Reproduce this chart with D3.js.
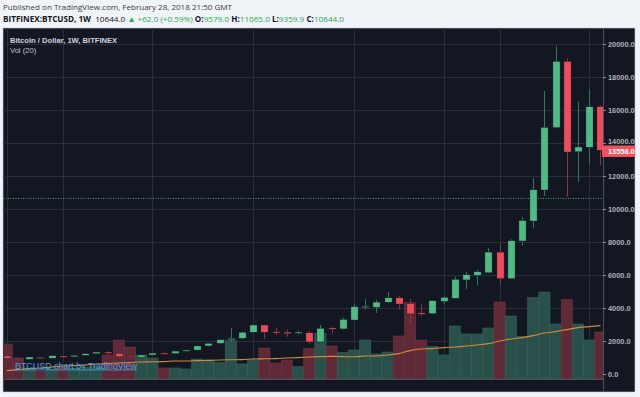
<!DOCTYPE html>
<html>
<head>
<meta charset="utf-8">
<script src="https://cdn.jsdelivr.net/npm/d3@7"></script>
<style>
  body { margin: 0; background: #f0f3f7; }
  svg { display: block; }
  text { font-family: "Liberation Sans", Arial, sans-serif; }
  .hdr { font-family: "Open Sans", "Liberation Sans", sans-serif; white-space: pre; }
</style>
</head>
<body>
<div id="chart"></div>
<script>
var width = 640;
var height = 397;

// weekly candles, first week starts Mon Jan 2 2017
var firstWeek = "2017-01-02";
var open  = [1090, 950, 890, 1010, 960, 1090, 1040, 1130, 1230, 1330, 1260, 1080, 1010, 1150, 1270, 1240, 1390, 1450, 1700, 1860,
             2080, 2160, 2530, 2970, 2560, 2540, 2480, 2500, 1940, 2790, 2730, 3270, 4040, 4040, 4350, 4620, 4280, 3700, 3660, 4400,
             4590, 5700, 5980, 6140, 7390, 5780, 8060, 9270, 11150, 14930, 18950, 13470, 13740, 16200];
var high  = [1160, 990, 1040, 1030, 1120, 1120, 1140, 1240, 1340, 1390, 1290, 1100, 1160, 1280, 1300, 1400, 1460, 1720, 1880, 2090,
             2770, 2560, 3000, 2990, 2800, 2670, 2620, 2600, 2970, 2860, 3410, 4240, 4530, 4500, 4990, 4750, 4540, 4200, 4450, 4700,
             5900, 6200, 6330, 7620, 7920, 8160, 9500, 11880, 17150, 19880, 19130, 16500, 17250, 16300];
var low   = [880, 800, 880, 940, 955, 980, 1030, 1120, 1220, 1150, 1000, 960, 1000, 1140, 1210, 1230, 1370, 1440, 1650, 1800,
             1950, 2100, 2500, 2120, 2360, 2260, 2400, 1840, 1930, 2480, 2700, 3250, 3920, 3700, 4300, 3920, 3030, 3500, 3640, 4220,
             4590, 5150, 5390, 6100, 5440, 5750, 7780, 8870, 10790, 14900, 10750, 11650, 12770, 12670];
var close = [950, 890, 1030, 955, 1110, 1030, 1130, 1230, 1330, 1250, 1050, 1010, 1150, 1270, 1230, 1390, 1450, 1700, 1860, 2080,
             2160, 2530, 2970, 2530, 2520, 2440, 2540, 1940, 2770, 2730, 3310, 4080, 4100, 4360, 4620, 4240, 3640, 3620, 4440, 4650,
             5740, 6020, 6200, 7390, 5780, 8080, 9300, 11170, 14950, 18950, 13450, 13760, 16200, 13558];
// volume (thousand BTC) and its 20-week average
var volume = [175, 105, 55, 40, 50, 60, 55, 60, 65, 120, 195, 160, 120, 105, 55, 55, 50, 100, 95, 82,
              192, 75, 95, 155, 80, 95, 62, 153, 228, 165, 133, 145, 195, 125, 135, 215, 382, 195, 162, 120,
              265, 225, 225, 255, 385, 315, 212, 408, 435, 275, 398, 275, 195, 235];
var volMA = [42, 47, 52, 55, 60, 65, 67, 70, 75, 77, 80, 82, 85, 86, 87, 90, 90, 92, 93, 95,
             96, 97, 100, 101, 102, 105, 107, 110, 112, 113, 112, 111, 115, 115, 120, 127, 142, 150, 152, 157,
             160, 165, 170, 177, 190, 200, 207, 217, 230, 237, 247, 257, 262, 267];

var priceTicks = [0, 2000, 4000, 6000, 8000, 10000, 12000, 14000, 16000, 18000, 20000];
var timeTicks = ["2017-01-02", "2017-02-06", "2017-04-03", "2017-06-05", "2017-08-07", "2017-10-02", "2017-11-06", "2018-01-01"];
var timeLabels = ["2017", "Feb", "Apr", "Jun", "Aug", "Oct", "Nov", "2018"];
var lastPrice = 10644.0;
var lastClose = 13558.0;

var parse = d3.utcParse("%Y-%m-%d");
var weeks = d3.utcMonday.range(parse(firstWeek), d3.utcDay.offset(parse(firstWeek), 7 * open.length));
var bars = weeks.map(function(d, i) {
  return { date: d, o: open[i], h: high[i], l: low[i], c: close[i], v: volume[i], ma: volMA[i] };
});

// frame
var plot = { l: 3, r: 603, t: 28, b: 379 };
var frameRight = 635;
var frameBottom = 392;

var x = d3.scaleUtc()
  .domain([parse("2017-10-02"), parse("2018-01-01")])
  .range([443.6, 589.2]);
var y = d3.scaleLinear().domain([0, 20000]).range([374, 44]);
var yVol = d3.scaleLinear().domain([0, 500]).range([379, 279]);

var step = x(weeks[1]) - x(weeks[0]);

var up = "#53b987", down = "#eb4d5c";
var upWick = "#3a7560", downWick = "#86394a";
var upVol = "#29504a", downVol = "#5f2a38";

var svg = d3.select("#chart").append("svg")
  .attr("width", width)
  .attr("height", height);

// header
svg.append("text").attr("class", "hdr")
  .attr("x", 3).attr("y", 10)
  .attr("font-size", 8).attr("fill", "#3a3a3a")
  .attr("textLength", 229).attr("lengthAdjust", "spacingAndGlyphs")
  .text("Published on TradingView.com, February 28, 2018 21:50 GMT");

var green = "#2fa84f";
var dark = "#131722";
var segs = [
  { t: "BITFINEX:BTCUSD, 1W", b: true, c: dark },
  { t: "  10644.0 ", b: false, c: dark },
  { t: "\u25B2 +62.0 (+0.59%) ", b: false, c: green },
  { t: "O:", b: true, c: dark },
  { t: "9579.0 ", b: false, c: green },
  { t: "H:", b: true, c: dark },
  { t: "11065.0 ", b: false, c: green },
  { t: "L:", b: true, c: dark },
  { t: "9359.9 ", b: false, c: green },
  { t: "C:", b: true, c: dark },
  { t: "10644.0", b: false, c: green }
];
var line2 = svg.append("text").attr("class", "hdr")
  .attr("x", 3).attr("y", 21.5)
  .attr("font-size", 8)
  .attr("textLength", 341).attr("lengthAdjust", "spacingAndGlyphs");
line2.selectAll("tspan")
  .data(segs)
  .enter()
  .append("tspan")
  .attr("font-weight", function(d) { return d.b ? "bold" : "normal"; })
  .attr("fill", function(d) { return d.c; })
  .text(function(d) { return d.t; });

// dark chart frame
svg.append("rect")
  .attr("x", plot.l).attr("y", plot.t)
  .attr("width", frameRight - plot.l).attr("height", frameBottom - plot.t)
  .attr("fill", "#131722")
  .attr("stroke", "#c9ced8").attr("stroke-width", 0.6);

svg.append("clipPath").attr("id", "plotclip")
  .append("rect")
  .attr("x", plot.l).attr("y", plot.t)
  .attr("width", plot.r - plot.l).attr("height", plot.b - plot.t);

svg.append("clipPath").attr("id", "axisclip")
  .append("rect")
  .attr("x", plot.l).attr("y", plot.b)
  .attr("width", plot.r - plot.l).attr("height", frameBottom - plot.b);

var g = svg.append("g").attr("clip-path", "url(#plotclip)");

// grid
g.selectAll("line.hgrid")
  .data(priceTicks)
  .enter()
  .append("line")
  .attr("class", "hgrid")
  .attr("x1", plot.l).attr("x2", plot.r)
  .attr("y1", function(d) { return Math.round(y(d)) + 0.5; })
  .attr("y2", function(d) { return Math.round(y(d)) + 0.5; })
  .attr("stroke", "#2a2e3a");

g.selectAll("line.vgrid")
  .data(timeTicks)
  .enter()
  .append("line")
  .attr("class", "vgrid")
  .attr("y1", plot.t).attr("y2", plot.b)
  .attr("x1", function(d) { return Math.round(x(parse(d))) + 0.5; })
  .attr("x2", function(d) { return Math.round(x(parse(d))) + 0.5; })
  .attr("stroke", "#2a2e3a");

// volume
g.selectAll("rect.vol")
  .data(bars)
  .enter()
  .append("rect")
  .attr("class", "vol")
  .attr("x", function(d) { return x(d.date) - step / 2; })
  .attr("width", step)
  .attr("y", function(d) { return yVol(d.v); })
  .attr("height", function(d) { return yVol(0) - yVol(d.v); })
  .attr("fill", function(d) { return d.c >= d.o ? upVol : downVol; })
  .attr("stroke", function(d) { return d.c >= d.o ? "#3a6b5c" : "#7a3446"; })
  .attr("stroke-width", 0.5);

var maLine = d3.line()
  .x(function(d) { return x(d.date); })
  .y(function(d) { return yVol(d.ma); })
  .curve(d3.curveMonotoneX);

g.append("path")
  .datum(bars)
  .attr("d", maLine)
  .attr("fill", "none")
  .attr("stroke", "#d58a3c")
  .attr("stroke-width", 1.1);

// last price line
g.append("line")
  .attr("x1", plot.l).attr("x2", plot.r)
  .attr("y1", Math.round(y(lastPrice)) + 0.5)
  .attr("y2", Math.round(y(lastPrice)) + 0.5)
  .attr("stroke", "#3fa877")
  .attr("stroke-dasharray", "1,1.5");

// candles
var candle = g.selectAll("g.candle")
  .data(bars)
  .enter()
  .append("g")
  .attr("class", "candle");

candle.append("line")
  .attr("x1", function(d) { return Math.round(x(d.date)) + 0.5; })
  .attr("x2", function(d) { return Math.round(x(d.date)) + 0.5; })
  .attr("y1", function(d) { return y(d.h); })
  .attr("y2", function(d) { return y(d.l); })
  .attr("stroke", function(d) { return d.c >= d.o ? upWick : downWick; });

candle.append("rect")
  .attr("x", function(d) { return Math.round(x(d.date)) + 0.5 - 3.6; })
  .attr("width", 7.2)
  .attr("y", function(d) { return y(Math.max(d.o, d.c)); })
  .attr("height", function(d) { return Math.max(1.2, Math.abs(y(d.o) - y(d.c))); })
  .attr("fill", function(d) { return d.c >= d.o ? up : down; })
  .attr("stroke", "#0e1118")
  .attr("stroke-width", 0.4);

// labels inside the plot
svg.append("text")
  .attr("x", 10).attr("y", 42.5)
  .attr("font-size", 7.6).attr("font-weight", "bold")
  .attr("fill", "#d1d4dc")
  .text("Bitcoin / Dollar, 1W, BITFINEX");
svg.append("text")
  .attr("x", 10).attr("y", 52.5)
  .attr("font-size", 7.6)
  .attr("fill", "#c3c6ce")
  .text("Vol (20)");

svg.append("text")
  .attr("x", 15).attr("y", 368.5)
  .attr("font-size", 8.5)
  .attr("fill", "#4aa3e0")
  .attr("text-decoration", "underline")
  .attr("textLength", 122).attr("lengthAdjust", "spacingAndGlyphs")
  .text("BTCUSD chart by TradingView");

// price axis
var yAxis = d3.axisRight(y)
  .tickValues(priceTicks)
  .tickSize(3)
  .tickPadding(2)
  .tickFormat(function(d) { return d.toFixed(1); });

var ya = svg.append("g")
  .attr("transform", "translate(" + plot.r + ",0)")
  .call(yAxis);
ya.select(".domain").attr("stroke", "#4c505b").attr("d", "M0.5," + plot.t + "V" + frameBottom);
ya.selectAll(".tick line").attr("stroke", "#8a8e98");
ya.selectAll("text")
  .attr("fill", "#aeb2bb")
  .attr("font-size", 7.4)
  .attr("font-weight", "bold")
  .attr("font-family", "Liberation Sans, Arial, sans-serif");
// the last-close badge covers the 14000 label's lower edge in the original; nudge it up a little
ya.selectAll(".tick")
  .filter(function(d) { return d === 14000; })
  .select("text")
  .attr("dy", "0.1em");

// last close marker on the axis
var lc = svg.append("g").attr("transform", "translate(" + plot.r + "," + (y(lastClose) + 0.7) + ")");
lc.append("rect")
  .attr("x", -1).attr("y", -5.5)
  .attr("width", frameRight - plot.r + 1).attr("height", 11.5)
  .attr("fill", "#ef5360");
lc.append("text")
  .attr("x", 5).attr("y", 2.8)
  .attr("font-size", 7.4).attr("font-weight", "bold")
  .attr("fill", "#ffffff")
  .text(lastClose.toFixed(1));

// time axis
var xAxis = d3.axisBottom(x)
  .tickValues(timeTicks.map(parse))
  .tickSize(3)
  .tickPadding(2)
  .tickFormat(function(d, i) { return timeLabels[i]; });

var xa = svg.append("g")
  .attr("transform", "translate(0," + plot.b + ")")
  .attr("clip-path", "url(#axisclip)")
  .call(xAxis);
xa.select(".domain").remove();
xa.selectAll(".tick line").attr("stroke", "#8a8e98");
xa.selectAll("text")
  .attr("fill", "#aeb2bb")
  .attr("font-size", 7.4)
  .attr("font-weight", "bold")
  .attr("font-family", "Liberation Sans, Arial, sans-serif");

svg.append("line")
  .attr("x1", plot.l).attr("x2", plot.r)
  .attr("y1", plot.b + 0.5).attr("y2", plot.b + 0.5)
  .attr("stroke", "#4c505b");
</script>
</body>
</html>
